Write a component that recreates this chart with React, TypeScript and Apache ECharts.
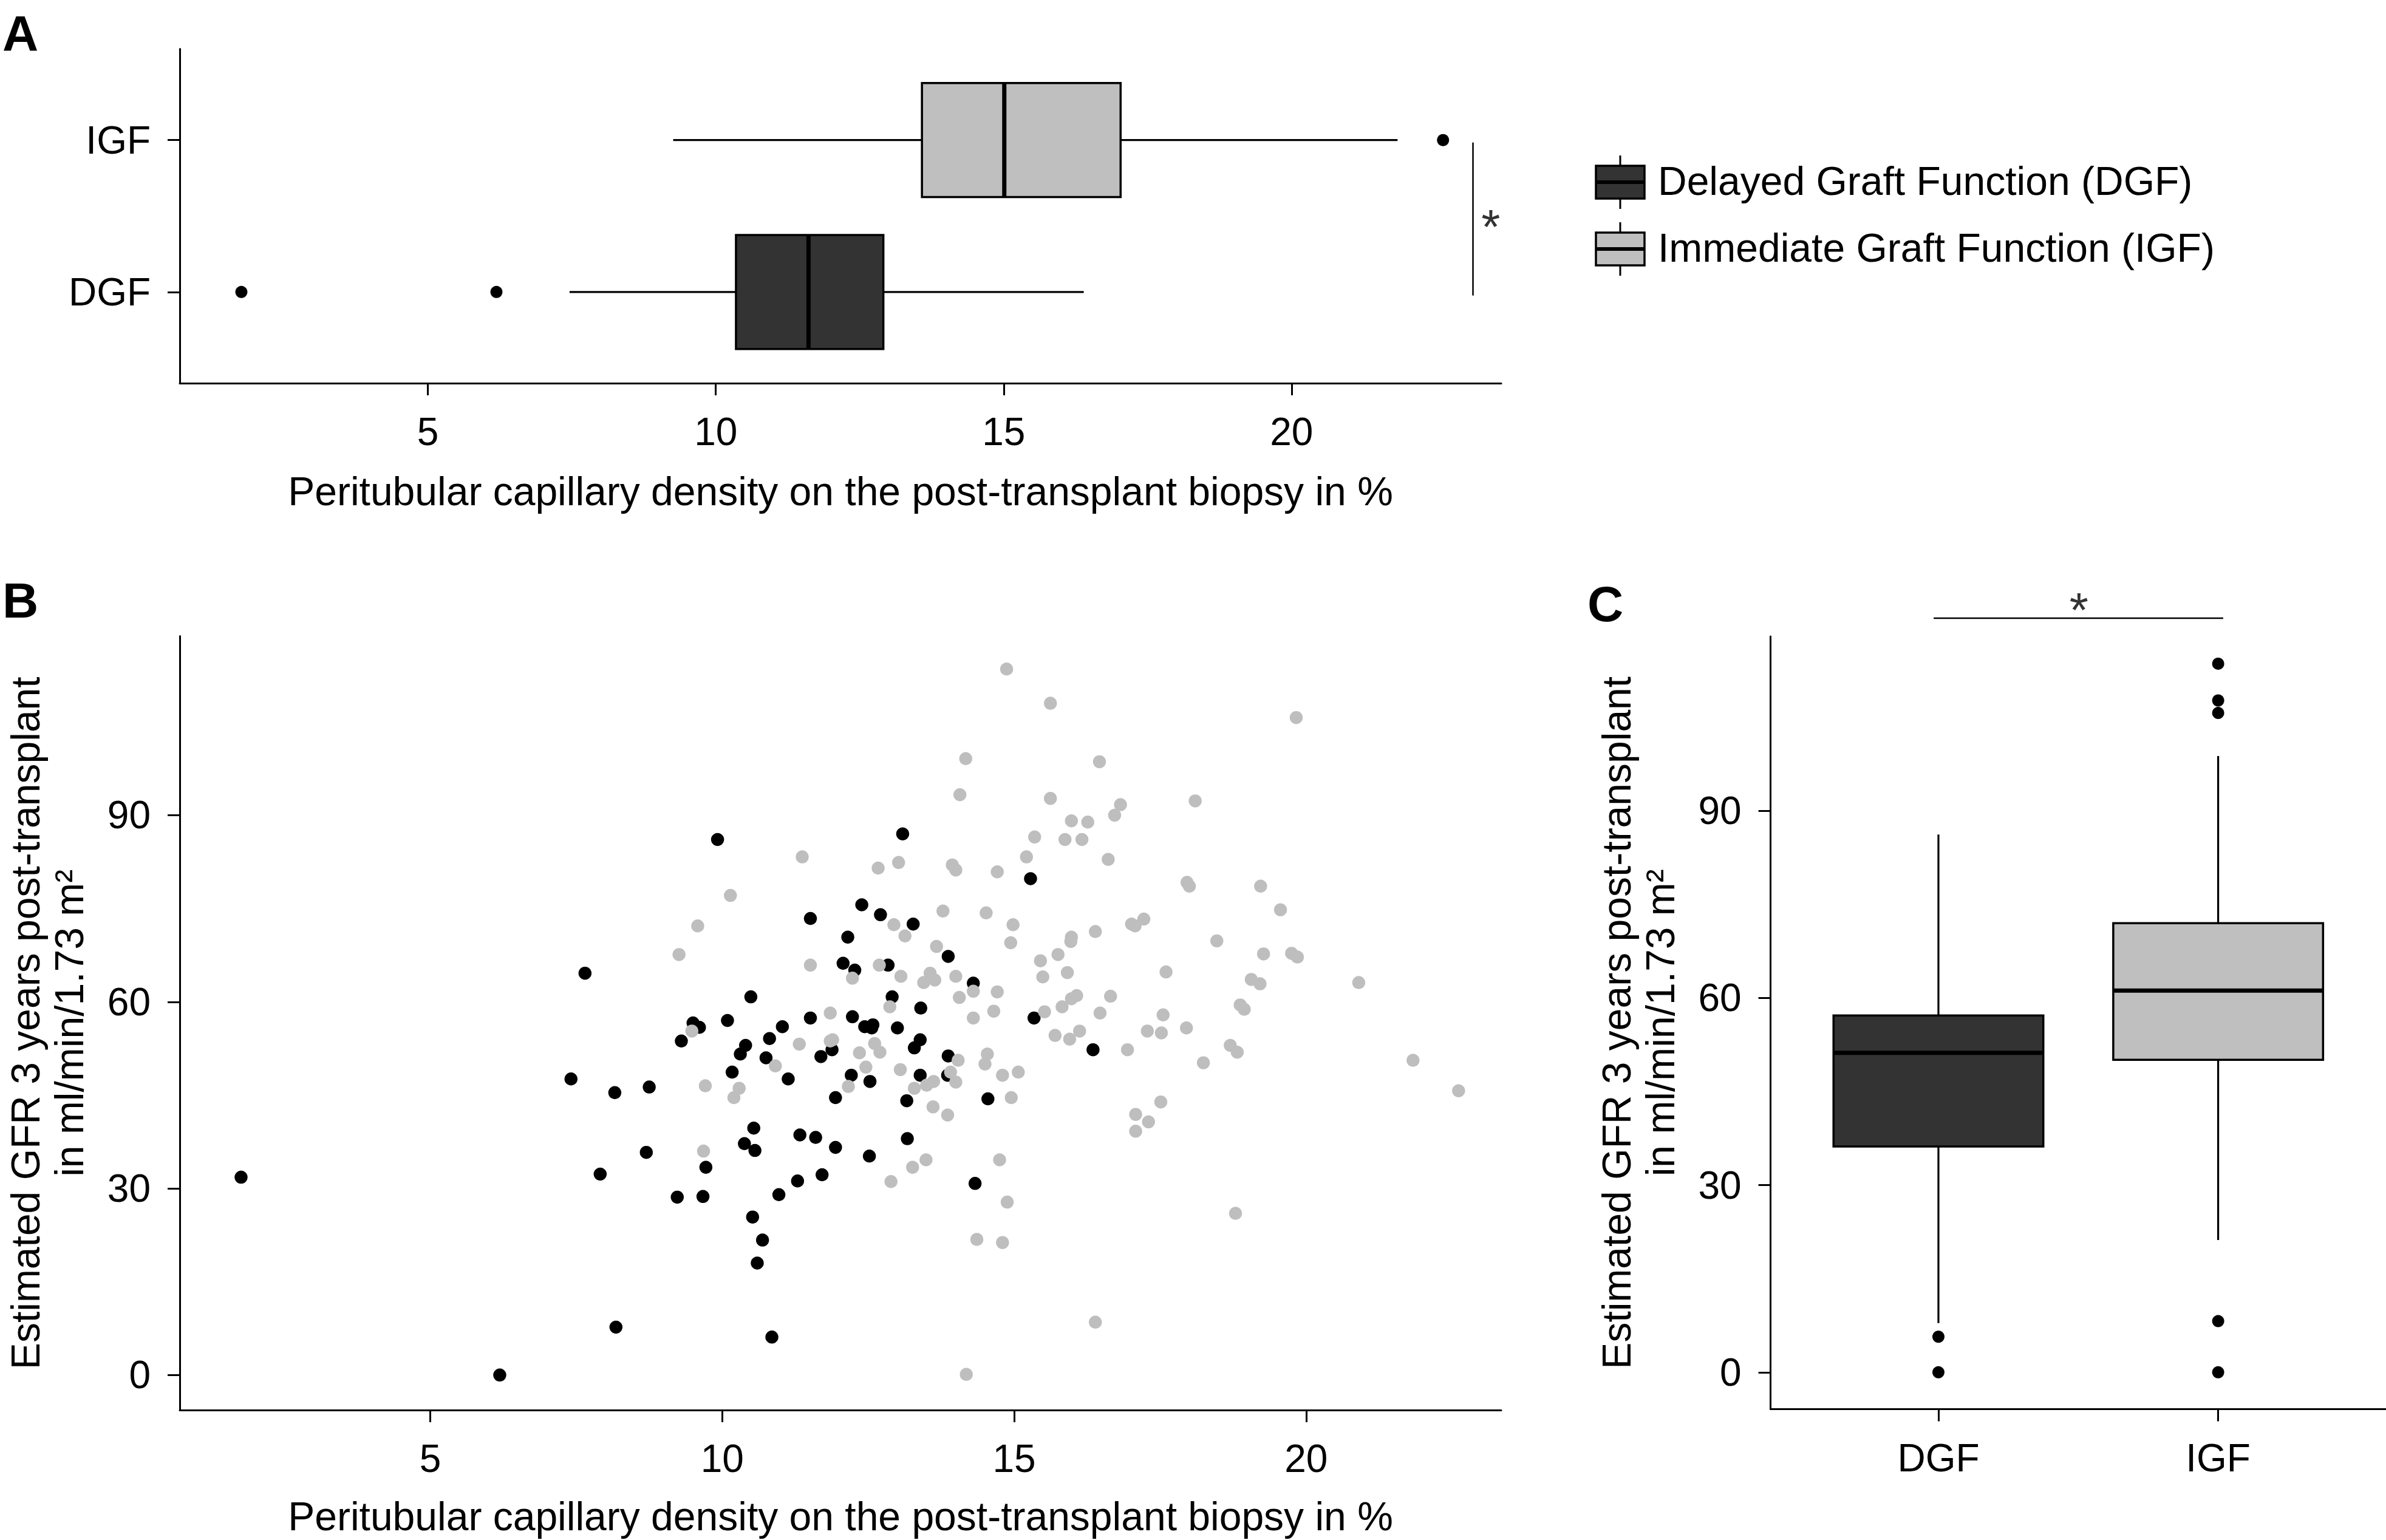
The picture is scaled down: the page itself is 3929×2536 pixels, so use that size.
import React, { useEffect, useRef } from 'react';
import * as echarts from 'echarts';

const FONT = '"Liberation Sans", Arial, Helvetica, sans-serif';

const groups = ['DGF', 'IGF'];
const legendLabels = ['Delayed Graft Function (DGF)', 'Immediate Graft Function (IGF)'];
const groupFill = ['#333333', '#BFBFBF'];
const pointColor = ['#000000', '#BEBEBE'];
const xTicks = [5, 10, 15, 20];
const yTicks = [0, 30, 60, 90];
const catTicks = [1, 2];

const xTitle = 'Peritubular capillary density on the post-transplant biopsy in %';
const yTitle = 'Estimated GFR 3 years post-transplant\nin ml/min/1.73 m\u00B2';

// Panel A: [position, lower whisker, Q1, median, Q3, upper whisker]
const ptcBoxDGF = [1, 7.46, 10.35, 11.61, 12.91, 16.39];
const ptcBoxIGF = [2, 9.26, 13.58, 15.01, 17.03, 21.84];
const ptcOutliersDGF = [1.76, 6.19];
const ptcOutliersIGF = [22.63];

// Panel C: [position, lower whisker, Q1, median, Q3, upper whisker]
const gfrBoxDGF = [1, 7.9, 36.2, 51.2, 57.2, 86.2];
const gfrBoxIGF = [2, 21.2, 50.1, 61.2, 72.0, 98.8];
const gfrOutliersDGF = [5.7, 0];
const gfrOutliersIGF = [113.6, 107.7, 105.7, 8.2, 0];

// significance annotations
const sigBracketA = [[23.15, 0.977], [23.15, 1.984]];
const sigStarA = [23.46, 1.43];
const sigBracketC = [[0.983, 120.9], [2.018, 120.9]];
const sigStarC = [1.502, 122.2];

// Panel B scatter: [PTC density %, eGFR]
const scatterDGF = [
  [9.92, 86.1], [13.09, 87.0], [7.65, 64.6], [12.39, 75.6], [11.51, 73.4], [12.71, 74.0], [13.27, 72.5],
  [12.15, 70.4], [12.07, 66.2], [12.27, 65.1], [12.84, 65.9], [10.49, 60.8], [12.91, 60.8],
  [9.5, 56.6], [9.61, 55.9], [9.3, 53.7], [10.09, 57.0], [11.51, 57.4], [12.23, 57.6], [11.03, 56.0],
  [12.44, 56.0], [12.58, 56.3], [12.56, 55.8], [13.0, 55.8], [10.81, 54.1], [10.4, 53.0], [10.31, 51.6],
  [11.88, 52.3], [11.69, 51.2], [10.75, 51.0], [10.17, 48.7], [12.21, 48.2], [11.13, 47.6], [12.53, 47.2],
  [11.94, 44.6], [13.16, 44.1], [7.41, 47.6], [8.16, 45.4], [8.75, 46.3], [10.54, 39.7], [11.33, 38.6],
  [11.6, 38.2], [11.94, 36.6], [12.52, 35.2], [13.17, 38.0], [10.38, 37.2], [10.56, 36.1], [8.7, 35.8],
  [9.72, 33.4], [7.91, 32.3], [9.23, 28.6], [9.67, 28.7], [10.97, 29.0], [11.29, 31.2], [11.71, 32.2],
  [10.52, 25.4], [10.69, 21.7], [10.6, 18.0], [8.18, 7.7], [10.85, 6.1],
  [15.28, 79.8], [13.87, 67.3], [14.3, 63.0],
  [13.4, 59.0], [15.34, 57.4], [16.35, 52.3], [13.39, 53.9], [13.29, 52.6], [13.87, 51.3], [13.39, 48.2],
  [13.86, 48.2], [14.55, 44.4], [14.33, 30.8],
  [1.76, 31.8], [6.19, 0],
];

const scatterIGF = [
  [11.37, 83.3], [12.67, 81.5], [13.02, 82.4], [10.14, 77.1], [9.58, 72.2], [9.26, 67.6], [12.94, 72.4],
  [13.13, 70.6], [11.51, 65.9], [12.69, 65.9], [12.23, 63.8], [13.06, 64.1],
  [9.48, 55.3], [11.85, 58.2], [12.87, 59.2], [11.32, 53.2], [11.85, 53.7], [11.89, 53.9], [12.61, 53.3],
  [12.7, 51.9], [12.35, 51.8], [10.91, 49.7], [12.46, 49.5], [13.05, 49.1], [12.16, 46.4], [10.29, 46.1],
  [10.2, 44.6], [9.71, 46.5], [12.89, 31.1], [9.68, 36.0],
  [14.87, 113.5], [15.62, 108.0], [14.17, 99.1], [16.46, 98.6], [14.07, 93.3], [15.62, 92.7], [16.82, 91.7],
  [16.72, 90.0], [18.1, 92.3], [15.98, 89.1], [16.26, 88.9], [15.35, 86.5], [15.87, 86.1], [16.16, 86.1],
  [15.21, 83.3], [16.61, 82.9], [13.94, 82.0], [14.0, 81.2], [14.71, 80.9], [17.96, 79.2], [18.0, 78.6],
  [19.22, 78.6], [13.78, 74.6], [14.52, 74.3], [14.98, 72.4], [14.94, 69.5], [13.67, 68.9], [17.01, 72.5],
  [17.22, 73.3], [17.07, 72.2], [16.39, 71.3], [15.98, 70.4], [15.97, 69.7], [18.47, 69.8], [19.27, 67.7],
  [15.75, 67.6], [15.45, 66.6], [15.91, 64.7], [15.49, 64.0], [17.6, 64.8], [19.06, 63.6], [19.21, 62.9],
  [13.56, 64.6], [13.45, 63.1], [13.64, 63.5], [14.0, 64.1], [14.3, 61.7], [14.71, 61.6], [14.06, 60.7],
  [15.98, 60.5], [16.07, 61.0], [16.65, 60.9],
  [14.3, 57.4], [14.65, 58.5], [15.52, 58.4], [15.82, 59.2], [16.47, 58.2], [17.55, 57.9], [17.28, 55.3],
  [17.52, 55.0], [17.95, 55.8], [16.94, 52.3], [18.87, 59.5], [18.94, 58.8], [18.7, 53.0], [18.82, 51.9],
  [18.24, 50.2], [15.7, 54.6], [15.95, 54.0], [16.12, 55.3], [14.04, 50.6], [14.54, 51.6], [14.5, 50.0],
  [13.91, 48.7], [14.0, 47.1], [13.62, 47.2], [13.5, 46.6], [13.29, 46.1], [14.8, 48.2], [15.07, 48.7],
  [14.95, 44.6], [13.61, 43.1], [13.86, 41.8], [13.49, 34.6], [13.26, 33.4], [14.75, 34.6], [14.88, 27.8],
  [14.36, 21.8], [14.8, 21.3], [14.18, 0.1], [16.39, 8.5], [17.51, 43.9], [17.08, 41.9], [17.3, 40.7],
  [17.08, 39.2], [18.79, 26.0],
  [19.83, 105.7], [19.56, 74.8], [19.75, 67.8], [19.85, 67.2], [20.9, 63.1], [21.83, 50.6], [22.61, 45.7],
];

const makeBoxRender = (horizontal: boolean) => (params: any, api: any) => {
  const pos = api.value(0);
  const lo = api.value(1);
  const q1 = api.value(2);
  const med = api.value(3);
  const q3 = api.value(4);
  const hi = api.value(5);
  const h = 0.375;
  const pt = (v: number, c: number) => (horizontal ? api.coord([v, c]) : api.coord([c, v]));
  const color = api.visual('color');
  const a = pt(q1, pos - h);
  const b = pt(q3, pos + h);
  const seg = (p1: number[], p2: number[], w: number) => ({
    type: 'line',
    shape: { x1: p1[0], y1: p1[1], x2: p2[0], y2: p2[1] },
    style: { stroke: '#000', lineWidth: w },
  });
  return {
    type: 'group',
    children: [
      seg(pt(lo, pos), pt(q1, pos), 3.2),
      seg(pt(q3, pos), pt(hi, pos), 3.2),
      {
        type: 'rect',
        shape: {
          x: Math.min(a[0], b[0]),
          y: Math.min(a[1], b[1]),
          width: Math.abs(a[0] - b[0]),
          height: Math.abs(a[1] - b[1]),
        },
        style: { fill: color, stroke: '#000', lineWidth: 3.5 },
      },
      seg(pt(med, pos - h), pt(med, pos + h), 7),
    ],
  };
};

const axisBase = (ticks: number[], fmt?: (v: number) => string) => ({
  axisLine: { show: true, onZero: false, lineStyle: { color: '#000', width: 3 } },
  axisTick: { show: true, length: 20, customValues: ticks, lineStyle: { color: '#000', width: 3 } },
  axisLabel: {
    show: true,
    customValues: ticks,
    color: '#000',
    fontSize: 64,
    fontFamily: FONT,
    margin: 48,
    formatter: fmt ? (v: number) => fmt(v) : (v: number) => String(v),
  },
  splitLine: { show: false },
  nameTextStyle: { color: '#000', fontSize: 66, fontFamily: FONT },
});

const catFmt = (v: number) => groups[Math.round(v) - 1] ?? '';

function legendItem(i: number, cy: number) {
  const cx = 2668;
  return [
    { type: 'line', shape: { x1: cx, y1: cy - 44, x2: cx, y2: cy + 44 }, style: { stroke: '#000', lineWidth: 3 } },
    {
      type: 'rect',
      shape: { x: 2628, y: cy - 27, width: 80, height: 54 },
      style: { fill: groupFill[i], stroke: '#000', lineWidth: 3.5 },
    },
    { type: 'line', shape: { x1: 2628, y1: cy, x2: 2708, y2: cy }, style: { stroke: '#000', lineWidth: 6 } },
    {
      type: 'text',
      x: 2730,
      y: cy - 2,
      style: {
        text: legendLabels[i],
        fontSize: 66,
        fontFamily: FONT,
        fill: '#000',
        align: 'left',
        verticalAlign: 'middle',
        textAlign: 'left',
        textVerticalAlign: 'middle',
      },
    },
  ];
}

const panelLetter = (t: string, x: number, y: number) => ({
  type: 'text',
  x,
  y,
  style: {
    text: t,
    fontSize: 82,
    fontWeight: 'bold',
    fontFamily: FONT,
    fill: '#000',
    align: 'left',
    verticalAlign: 'middle',
    textAlign: 'left',
    textVerticalAlign: 'middle',
  },
});

export default function App() {
  const ref = useRef<HTMLDivElement>(null);

  useEffect(() => {
    document.body.style.margin = '0';
    document.body.style.overflow = 'hidden';
    if (!ref.current) return;
    const chart = echarts.init(ref.current, null, { renderer: 'svg' });

    const yName = {
      name: yTitle,
      nameLocation: 'middle',
      nameRotate: 90,
      nameGap: 146,
      nameTextStyle: { color: '#000', fontSize: 66, fontFamily: FONT, lineHeight: 72, align: 'center' },
    };

    const option: any = {
      animation: false,
      backgroundColor: '#ffffff',
      textStyle: { fontFamily: FONT },
      grid: [
        { left: 296, top: 80.5, width: 2176, height: 550.5, outerBoundsMode: 'none', containLabel: false },
        { left: 296, top: 1047.5, width: 2176, height: 1274.5, outerBoundsMode: 'none', containLabel: false },
        { left: 2915.6, top: 1048, width: 1013.4, height: 1272.5, outerBoundsMode: 'none', containLabel: false },
      ],
      xAxis: [
        {
          gridIndex: 0,
          type: 'value',
          min: 0.69,
          max: 23.64,
          ...axisBase(xTicks),
          name: xTitle,
          nameLocation: 'middle',
          nameGap: 145,
        },
        {
          gridIndex: 1,
          type: 'value',
          min: 0.71,
          max: 23.34,
          ...axisBase(xTicks),
          name: xTitle,
          nameLocation: 'middle',
          nameGap: 142,
        },
        {
          gridIndex: 2,
          type: 'value',
          min: 0.4,
          max: 2.6,
          ...axisBase(catTicks, catFmt),
        },
      ],
      yAxis: [
        {
          gridIndex: 0,
          type: 'value',
          min: 0.4,
          max: 2.6,
          ...axisBase(catTicks, catFmt),
        },
        {
          gridIndex: 1,
          type: 'value',
          min: -5.63,
          max: 118.8,
          ...axisBase(yTicks),
          ...yName,
        },
        {
          gridIndex: 2,
          type: 'value',
          min: -5.91,
          max: 117.97,
          ...axisBase(yTicks),
          ...yName,
        },
      ],
      series: [
        // Panel A boxplots
        {
          type: 'custom',
          name: groups[0],
          xAxisIndex: 0,
          yAxisIndex: 0,
          renderItem: makeBoxRender(true),
          itemStyle: { color: groupFill[0] },
          encode: { x: [1, 2, 3, 4, 5], y: 0 },
          data: [ptcBoxDGF],
          silent: true,
        },
        {
          type: 'custom',
          name: groups[1],
          xAxisIndex: 0,
          yAxisIndex: 0,
          renderItem: makeBoxRender(true),
          itemStyle: { color: groupFill[1] },
          encode: { x: [1, 2, 3, 4, 5], y: 0 },
          data: [ptcBoxIGF],
          silent: true,
        },
        {
          type: 'scatter',
          xAxisIndex: 0,
          yAxisIndex: 0,
          symbolSize: 20,
          itemStyle: { color: '#000', opacity: 1 },
          data: [...ptcOutliersDGF.map((v) => [v, 1]), ...ptcOutliersIGF.map((v) => [v, 2])],
          silent: true,
        },
        {
          type: 'line',
          xAxisIndex: 0,
          yAxisIndex: 0,
          data: sigBracketA,
          symbol: 'none',
          lineStyle: { color: '#000', width: 2.5 },
          clip: false,
          silent: true,
        },
        {
          type: 'scatter',
          xAxisIndex: 0,
          yAxisIndex: 0,
          data: [sigStarA],
          symbolSize: 1,
          itemStyle: { color: 'rgba(0,0,0,0)' },
          clip: false,
          silent: true,
          label: { show: true, position: 'inside', formatter: '*', fontSize: 80, color: '#000', fontFamily: FONT },
        },
        // Panel B scatter
        {
          type: 'scatter',
          name: groups[0],
          xAxisIndex: 1,
          yAxisIndex: 1,
          symbolSize: 21.5,
          itemStyle: { color: pointColor[0], opacity: 1 },
          data: scatterDGF,
          silent: true,
        },
        {
          type: 'scatter',
          name: groups[1],
          xAxisIndex: 1,
          yAxisIndex: 1,
          symbolSize: 21.5,
          itemStyle: { color: pointColor[1], opacity: 1 },
          data: scatterIGF,
          silent: true,
        },
        // Panel C boxplots
        {
          type: 'custom',
          name: groups[0],
          xAxisIndex: 2,
          yAxisIndex: 2,
          renderItem: makeBoxRender(false),
          itemStyle: { color: groupFill[0] },
          encode: { x: 0, y: [1, 2, 3, 4, 5] },
          data: [gfrBoxDGF],
          silent: true,
        },
        {
          type: 'custom',
          name: groups[1],
          xAxisIndex: 2,
          yAxisIndex: 2,
          renderItem: makeBoxRender(false),
          itemStyle: { color: groupFill[1] },
          encode: { x: 0, y: [1, 2, 3, 4, 5] },
          data: [gfrBoxIGF],
          silent: true,
        },
        {
          type: 'scatter',
          xAxisIndex: 2,
          yAxisIndex: 2,
          symbolSize: 20,
          itemStyle: { color: '#000', opacity: 1 },
          data: [...gfrOutliersDGF.map((v) => [1, v]), ...gfrOutliersIGF.map((v) => [2, v])],
          silent: true,
        },
        {
          type: 'line',
          xAxisIndex: 2,
          yAxisIndex: 2,
          data: sigBracketC,
          symbol: 'none',
          lineStyle: { color: '#000', width: 2.5 },
          clip: false,
          silent: true,
        },
        {
          type: 'scatter',
          xAxisIndex: 2,
          yAxisIndex: 2,
          data: [sigStarC],
          symbolSize: 1,
          itemStyle: { color: 'rgba(0,0,0,0)' },
          clip: false,
          silent: true,
          label: { show: true, position: 'inside', formatter: '*', fontSize: 80, color: '#000', fontFamily: FONT },
        },
      ],
      graphic: {
        elements: [
          panelLetter('A', 4, 54),
          panelLetter('B', 4, 988),
          panelLetter('C', 2614, 994),
          ...legendItem(0, 300),
          ...legendItem(1, 410),
        ],
      },
    };

    chart.setOption(option);
    return () => {
      chart.dispose();
    };
  }, []);

  return <div ref={ref} style={{ width: 3929, height: 2536 }} />;
}
